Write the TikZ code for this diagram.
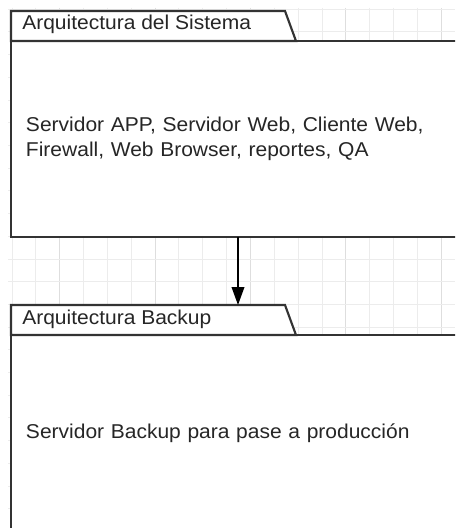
\documentclass[tikz,border=0pt]{standalone}
\usepackage{fontspec}
\setmainfont{Liberation Sans}[FakeStretch=1.05]
\usetikzlibrary{arrows.meta,positioning}

\definecolor{rejilla}{HTML}{ECECEC}
\definecolor{rejillafuerte}{HTML}{DEDEDE}
\definecolor{borde}{HTML}{333333}

\begin{document}
\begin{tikzpicture}[x=0.75pt, y=0.75pt,
    letra/.style={font=\fontsize{15}{18.75}\selectfont, text=black!85},
    paquete/.style={rectangle, draw=borde, line width=1.6pt, fill=white, outer sep=0pt,
        anchor=north west, minimum height=147pt, text width=340pt, inner xsep=11.25pt,
        align=left, letra},
    pestana/.style={draw=borde, line width=1.6pt, fill=white, line join=miter},
    titulo/.style={anchor=base west, inner sep=0pt, letra},
    flecha/.style={draw=black, line width=1.2pt, -{Triangle[length=13.5pt, width=9.5pt]}}]
    \useasboundingbox (0,0) rectangle (455,-528);
    \clip (0,0) rectangle (455,-528);
    \fill[white] (0,0) rectangle (455,-528);

    % Rejilla de fondo
    \foreach \k in {0,...,18} {
        \pgfmathtruncatemacro{\m}{mod(\k,4)}
        \ifnum\m=2 \def\col{rejillafuerte}\else \def\col{rejilla}\fi
        \draw[\col, line width=0.75pt] ({12+23.85*\k},-8) -- ({12+23.85*\k},-528);
    }
    \foreach \k in {0,...,22}
        \draw[rejilla, line width=0.75pt] (8,{-9.3-22.7*\k}) -- (455,{-9.3-22.7*\k});

    % Paquetes
    \node[paquete] (sistema) at (11,-41)
        {Servidor APP, Servidor Web, Cliente Web,\\Firewall, Web Browser, reportes, QA};
    \node[paquete, below=73.5pt of sistema] (backup)
        {Servidor Backup para pase a producción};

    % Pestañas
    \draw[pestana] (sistema.north west) -- ++(0,30) -- ++(274,0) -- ++(11,-30) -- cycle;
    \draw[pestana] (backup.north west) -- ++(0,30) -- ++(274,0) -- ++(11,-30) -- cycle;
    \node[titulo] (titsistema) at ([shift={(11,11)}]sistema.north west) {Arquitectura del Sistema};
    \node[titulo] (titbackup) at ([shift={(11,11)}]backup.north west) {Arquitectura Backup};

    % Dependencia
    \coordinate (pestanabackup) at ([shift={(227,30)}]backup.north west);
    \draw[flecha] ([shift={(227,0)}]sistema.south west) -- (pestanabackup);
\end{tikzpicture}
\end{document}
